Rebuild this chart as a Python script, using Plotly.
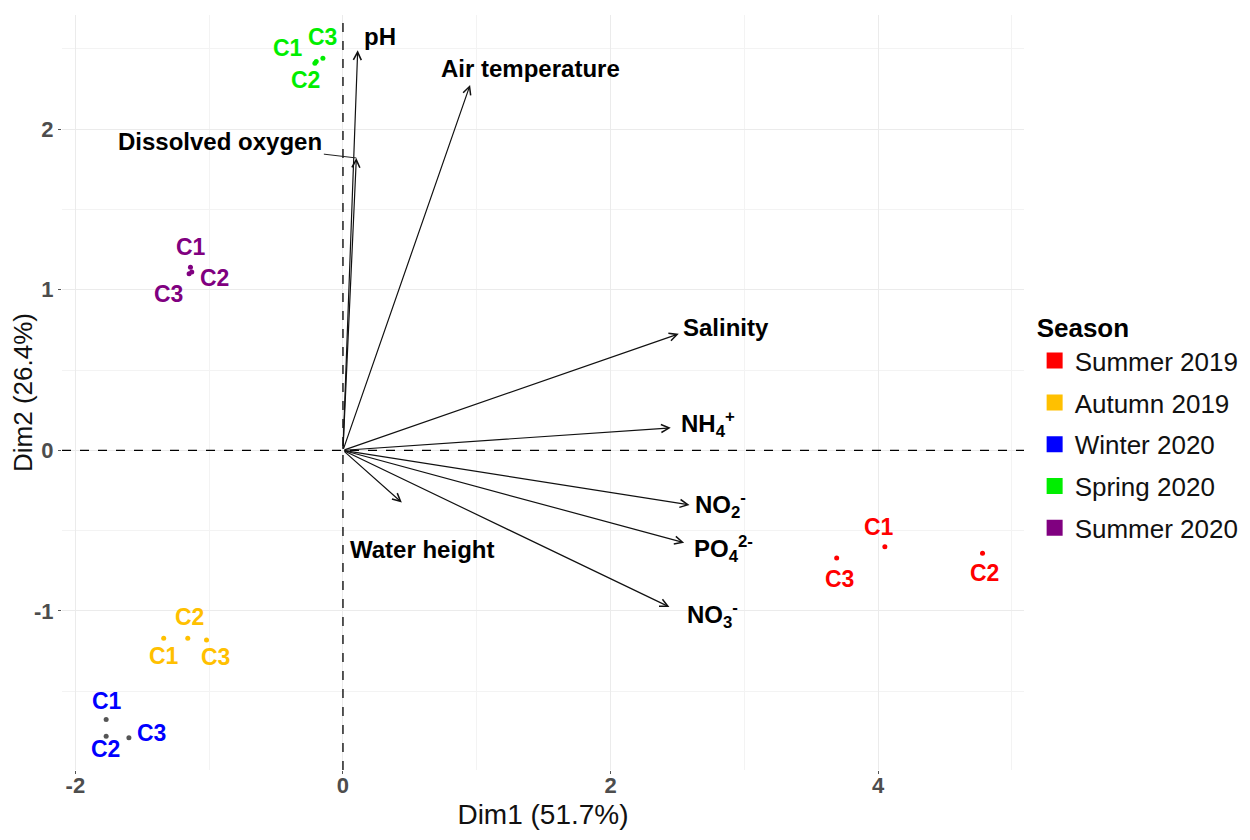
import plotly.graph_objects as go

# individuals (sampling sites) per season
seasons = ["Summer 2019", "Autumn 2019", "Winter 2020", "Spring 2020", "Summer 2020"]
season_colors = ["#ff0000", "#ffc000", "#0000ff", "#00ee00", "#800080"]
site_labels = ["C1", "C2", "C3"]

summer19_dim1 = [4.05, 4.78, 3.69]
summer19_dim2 = [-0.60, -0.64, -0.67]
autumn19_dim1 = [-1.34, -1.16, -1.02]
autumn19_dim2 = [-1.17, -1.17, -1.18]
winter20_dim1 = [-1.77, -1.77, -1.60]
winter20_dim2 = [-1.675, -1.78, -1.79]
spring20_dim1 = [-0.20, -0.21, -0.15]
spring20_dim2 = [2.42, 2.41, 2.44]
summer20_dim1 = [-1.14, -1.13, -1.15]
summer20_dim2 = [1.14, 1.11, 1.10]

# variables (loadings)
var_labels = ["pH", "Dissolved oxygen", "Air temperature", "Salinity",
              "NH<sub>4</sub><sup>+</sup>", "NO<sub>2</sub><sup>-</sup>",
              "PO<sub>4</sub><sup>2-</sup>", "NO<sub>3</sub><sup>-</sup>", "Water height"]
var_dim1 = [0.11, 0.10, 0.95, 2.51, 2.45, 2.59, 2.55, 2.44, 0.44]
var_dim2 = [2.49, 1.82, 2.275, 0.725, 0.14, -0.34, -0.575, -0.975, -0.325]

x_ticks = [-2, 0, 2, 4]
x_ticktext = ["-2", "0", "2", "4"]
y_ticks = [-1, 0, 1, 2]
y_ticktext = ["-1", "0", "1", "2"]

dim1_title = "Dim1 (51.7%)"
dim2_title = "Dim2 (26.4%)"

#%%
FONT = "Liberation Sans, Arial, sans-serif"

# repel-style label offsets (px) for C1, C2, C3 of each season
site_shift = [
    [(-6, 20), (2, -20), (3, -21)],
    [(0, -18), (2, 21), (9, -17)],
    [(1, 18), (-1, -13), (23, 5)],
    [(-28, 14), (-9, -17), (0, 21)],
    [(1, 20), (23, -6), (-21, -20)],
]
groups = [
    (summer19_dim1, summer19_dim2),
    (autumn19_dim1, autumn19_dim2),
    (winter20_dim1, winter20_dim2),
    (spring20_dim1, spring20_dim2),
    (summer20_dim1, summer20_dim2),
]

fig = go.Figure()
for n, (gx, gy) in enumerate(groups):
    pt_color = "#555555" if seasons[n] == "Winter 2020" else season_colors[n]
    fig.add_scatter(
        x=gx, y=gy, mode="markers", marker=dict(size=5, color=pt_color),
        showlegend=False, hoverinfo="skip",
    )
    for k, (px_, py_) in enumerate(zip(gx, gy)):
        dx, dy = site_shift[n][k]
        fig.add_annotation(
            x=px_, y=py_, text=site_labels[k], showarrow=False, xshift=dx, yshift=dy,
            font=dict(family=FONT, size=23, color=season_colors[n], weight="bold"),
        )
    # legend entry
    fig.add_scatter(
        x=[None], y=[None], mode="markers", name=seasons[n], legendgroup=seasons[n],
        marker=dict(symbol="square", size=19, color=season_colors[n]),
    )

# arrows from origin
for vx, vy in zip(var_dim1, var_dim2):
    fig.add_annotation(
        x=vx, y=vy, ax=0, ay=0, xref="x", yref="y", axref="x", ayref="y",
        text="", showarrow=True, arrowhead=5, arrowsize=1.3, arrowwidth=1.2,
        arrowcolor="#111111", standoff=0, startstandoff=0,
    )

# label offsets (px) relative to arrow tips
label_shift = {
    "pH": (22, 14), "Air temperature": (60, 16), "Salinity": (47, 6),
    "NH<sub>4</sub><sup>+</sup>": (37, 4), "NO<sub>2</sub><sup>-</sup>": (31, 0),
    "PO<sub>4</sub><sup>2-</sup>": (39, -6), "NO<sub>3</sub><sup>-</sup>": (43, -8),
    "Water height": (20, -47),
}
for lab, vx, vy in zip(var_labels, var_dim1, var_dim2):
    lab_font = dict(family=FONT, size=24, color="#000000", weight="bold")
    if lab == "Dissolved oxygen":
        fig.add_annotation(
            x=vx, y=vy, text=lab, showarrow=True, arrowhead=0, arrowwidth=1,
            arrowcolor="#222222", ax=-136, ay=-16, font=lab_font, standoff=0,
        )
        continue
    dx, dy = label_shift[lab]
    fig.add_annotation(
        x=vx, y=vy, text=lab, showarrow=False, xshift=dx, yshift=dy, font=lab_font,
    )

# dashed reference lines
fig.add_hline(y=0, line=dict(color="black", width=1.3, dash="dash"))
fig.add_vline(x=0, line=dict(color="black", width=1.3, dash="dash"))

# page body has an 8px margin, so the figure is sized to fit the window
fig.update_layout(
    width=1242,
    height=832,
    plot_bgcolor="white",
    paper_bgcolor="white",
    margin=dict(l=54, r=225, t=7, b=70),
    font=dict(family=FONT),
    legend=dict(
        title=dict(text="<b>Season</b>", font=dict(size=26, color="black")),
        font=dict(size=26, color="#111111"),
        x=1.01, y=0.618, xanchor="left", yanchor="top",
        itemwidth=30, tracegroupgap=5,
    ),
)
fig.update_xaxes(
    range=[-2.1, 5.09], tickvals=x_ticks, ticktext=x_ticktext, zeroline=False,
    showgrid=True, gridcolor="#ebebeb", gridwidth=1,
    minor=dict(tickvals=[-1, 1, 3, 5], showgrid=True, gridcolor="#f3f3f3", gridwidth=1),
    ticks="outside", ticklen=3, tickcolor="#555555", automargin=False,
    ticklabelstandoff=-7,
    tickfont=dict(size=22, color="#4d4d4d", weight="bold"),
    title=dict(text=dim1_title, font=dict(size=28, color="#111111"), standoff=6),
)
fig.update_yaxes(
    range=[-1.99, 2.71], tickvals=y_ticks, ticktext=y_ticktext, zeroline=False,
    showgrid=True, gridcolor="#ebebeb", gridwidth=1,
    minor=dict(tickvals=[-1.5, -0.5, 0.5, 1.5, 2.5], showgrid=True,
               gridcolor="#f3f3f3", gridwidth=1),
    ticks="outside", ticklen=3, tickcolor="#555555", automargin=False,
    tickfont=dict(size=22, color="#4d4d4d", weight="bold"),
    title=dict(text=dim2_title, font=dict(size=26, color="#111111"), standoff=0),
)

fig.write_html("out.html")
